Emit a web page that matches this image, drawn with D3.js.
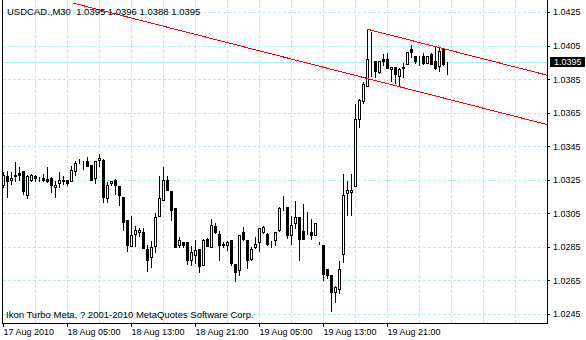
<!DOCTYPE html>
<html>
<head>
<meta charset="utf-8">
<script src="https://cdn.jsdelivr.net/npm/d3@7"></script>
<style>
body { margin: 0; background: #fff; }
svg { display: block; font-family: "Liberation Sans", Arial, sans-serif; font-size: 9px; }
</style>
</head>
<body>
<div id="chart"></div>
<script>
// USDCAD M30 bars (oldest first)
var opens = [1.03220,1.03274,1.03246,1.03280,1.03290,1.03300,1.03157,1.03248,1.03274,1.03250,
  1.03262,1.03252,1.03262,1.03204,1.03230,1.03244,1.03250,1.03240,1.03300,1.03366,
  1.03354,1.03364,1.03340,1.03260,1.03368,1.03370,1.03141,1.03230,1.03250,1.03210,
  1.03147,1.03012,1.02858,1.02926,1.02938,1.02938,1.02838,1.02789,1.02858,1.03037,
  1.03127,1.03246,1.03181,1.03081,1.02862,1.02882,1.02878,1.02769,1.02803,1.02838,
  1.02743,1.02898,1.02848,1.02972,1.02928,1.02866,1.02859,1.02893,1.02747,1.02714,
  1.02936,1.02893,1.02779,1.02849,1.02879,1.02938,1.02928,1.02879,1.02893,1.02952,
  1.03086,1.03088,1.02919,1.02992,1.03026,1.02942,1.02952,1.02938,1.02919,1.02867,
  1.02863,1.02720,1.02684,1.02583,1.02597,1.02806,1.03170,1.03176,1.03215,1.03613,
  1.03720,1.03806,1.03951,1.03959,1.03892,1.03969,1.03969,1.03909,1.03921,1.03870,
  1.03921,1.03939,1.04029,1.03989,1.03971,1.03985,1.03945,1.03999,1.03959,1.03929,
  1.04029,1.03950];
var highs = [1.03303,1.03310,1.03304,1.03363,1.03334,1.03304,1.03286,1.03290,1.03284,1.03274,
  1.03290,1.03334,1.03274,1.03250,1.03304,1.03280,1.03250,1.03340,1.03370,1.03380,
  1.03370,1.03393,1.03340,1.03364,1.03409,1.03380,1.03240,1.03250,1.03260,1.03210,
  1.03147,1.03012,1.03041,1.02982,1.02968,1.02968,1.02868,1.02892,1.03057,1.03280,
  1.03330,1.03280,1.03181,1.03087,1.02912,1.02882,1.02878,1.02862,1.02898,1.02838,
  1.02902,1.02906,1.03021,1.02998,1.02952,1.02883,1.02893,1.02893,1.02747,1.02922,
  1.02972,1.02893,1.02853,1.02913,1.02968,1.02982,1.02936,1.02893,1.02942,1.03092,
  1.03161,1.03088,1.03038,1.03131,1.03026,1.03112,1.03062,1.03022,1.02998,1.02883,
  1.02863,1.02720,1.02684,1.02620,1.02772,1.03290,1.03250,1.03290,1.03707,1.03736,
  1.03836,1.04148,1.04134,1.03959,1.03959,1.04005,1.04011,1.03925,1.03921,1.03925,
  1.03951,1.04015,1.04059,1.03995,1.03995,1.04011,1.03985,1.04011,1.04045,1.04045,
  1.04035,1.03960];
var lows = [1.03204,1.03145,1.03226,1.03240,1.03246,1.03166,1.03141,1.03244,1.03244,1.03240,
  1.03240,1.03236,1.03176,1.03145,1.03204,1.03226,1.03216,1.03240,1.03276,1.03350,
  1.03314,1.03330,1.03246,1.03230,1.03334,1.03117,1.03117,1.03220,1.03167,1.03097,
  1.02948,1.02828,1.02858,1.02858,1.02912,1.02846,1.02709,1.02733,1.02818,1.03037,
  1.03127,1.03187,1.03008,1.02852,1.02848,1.02848,1.02749,1.02743,1.02753,1.02699,
  1.02743,1.02858,1.02848,1.02932,1.02773,1.02850,1.02833,1.02743,1.02644,1.02684,
  1.02893,1.02727,1.02773,1.02843,1.02823,1.02932,1.02863,1.02849,1.02863,1.02942,
  1.03072,1.02903,1.02867,1.02962,1.02773,1.02899,1.02926,1.02899,1.02919,1.02867,
  1.02654,1.02664,1.02465,1.02523,1.02573,1.02762,1.03041,1.03041,1.03215,1.03567,
  1.03710,1.03806,1.03866,1.03862,1.03886,1.03935,1.03915,1.03836,1.03826,1.03816,
  1.03862,1.03939,1.03981,1.03949,1.03935,1.03941,1.03945,1.03941,1.03909,1.03896,
  1.03935,1.03880];
var closes = [1.03280,1.03240,1.03260,1.03270,1.03276,1.03186,1.03270,1.03278,1.03260,1.03250,
  1.03248,1.03240,1.03216,1.03220,1.03248,1.03246,1.03230,1.03308,1.03350,1.03366,
  1.03356,1.03330,1.03246,1.03364,1.03380,1.03145,1.03220,1.03244,1.03216,1.03157,
  1.02998,1.02862,1.02922,1.02952,1.02952,1.02846,1.02773,1.02848,1.03027,1.03141,
  1.03250,1.03187,1.03067,1.02852,1.02892,1.02862,1.02773,1.02822,1.02832,1.02739,
  1.02892,1.02858,1.02982,1.02938,1.02862,1.02862,1.02879,1.02753,1.02700,1.02922,
  1.02897,1.02773,1.02837,1.02867,1.02962,1.02968,1.02867,1.02877,1.02938,1.03082,
  1.03088,1.02919,1.02978,1.03028,1.02899,1.02899,1.02950,1.02922,1.02992,1.02867,
  1.02690,1.02684,1.02580,1.02613,1.02719,1.03160,1.03190,1.03190,1.03611,1.03726,
  1.03822,1.03969,1.03950,1.03896,1.03959,1.03955,1.03919,1.03925,1.03880,1.03909,
  1.03919,1.04011,1.04011,1.03955,1.03971,1.03945,1.03985,1.03941,1.03919,1.04019,
  1.03939,1.03950];

var timeTicks = [0, 16, 32, 48, 64, 80, 96];
var timeLabels = ["17 Aug 2010", "18 Aug 05:00", "18 Aug 13:00", "18 Aug 21:00",
  "19 Aug 05:00", "19 Aug 13:00", "19 Aug 21:00"];
var priceTicks = [1.0425, 1.0405, 1.0385, 1.0365, 1.0345, 1.0325, 1.0305, 1.0285, 1.0265, 1.0245];

// channel lines: [bar index, price] anchor pairs
var upperChannel = [[91, 1.04148], [111, 1.04026]];
var lowerChannel = [[17.4, 1.04304], [111, 1.03732]];

var symbol = "USDCAD.,M30";
var copyright = "Ikon Turbo Meta, ? 2001-2010 MetaQuotes Software Corp.";

var width = 586, height = 340;
var plot = {left: 2, right: 547, top: 0, bottom: 323};
var gridColor = "#AFEEEE";

function init() {
    var svg = d3.select("#chart")
        .append("svg")
        .attr("width", width)
        .attr("height", height);

    // 4 px per bar
    var x = d3.scaleLinear().domain([0, 136]).range([3, 547]);
    var y = d3.scaleLinear().domain([1.0245, 1.0425]).range([314, 12]);
    var px = function (i) { return Math.round(x(i)) + 0.5; };
    var py = function (v) { return Math.round(y(v)) + 0.5; };

    svg.append("defs").append("clipPath").attr("id", "plotclip")
        .append("rect")
        .attr("x", plot.left + 1).attr("y", plot.top)
        .attr("width", plot.right - plot.left - 1).attr("height", plot.bottom - plot.top);

    // grid
    var grid = svg.append("g").attr("shape-rendering", "crispEdges")
        .attr("stroke", gridColor).attr("stroke-dasharray", "3,2");
    grid.selectAll("line.h").data(priceTicks).enter().append("line")
        .attr("class", "h")
        .attr("x1", plot.left + 1).attr("x2", plot.right)
        .attr("y1", py).attr("y2", py);
    grid.selectAll("line.v").data(d3.range(8, 136, 8)).enter().append("line")
        .attr("class", "v")
        .attr("x1", px).attr("x2", px)
        .attr("y1", plot.top).attr("y2", plot.bottom);

    // bid line
    var last = closes.length - 1;
    svg.append("line")
        .attr("x1", plot.left + 1).attr("x2", plot.right)
        .attr("y1", py(closes[last])).attr("y2", py(closes[last]))
        .attr("stroke", gridColor).attr("shape-rendering", "crispEdges");

    // candles
    var bars = d3.range(opens.length).map(function (i) {
        return {i: i, o: opens[i], h: highs[i], l: lows[i], c: closes[i]};
    });
    var candle = svg.append("g").attr("shape-rendering", "crispEdges")
        .selectAll("g").data(bars).enter().append("g");

    candle.append("line")
        .attr("x1", function (d) { return px(d.i); })
        .attr("x2", function (d) { return px(d.i); })
        .attr("y1", function (d) { return py(d.h); })
        .attr("y2", function (d) { return py(d.l); })
        .attr("stroke", "#000");

    candle.append("rect")
        .attr("x", function (d) { return px(d.i) - 1; })
        .attr("width", 2)
        .attr("y", function (d) { return py(Math.max(d.o, d.c)); })
        .attr("height", function (d) { return py(Math.min(d.o, d.c)) - py(Math.max(d.o, d.c)); })
        .attr("fill", function (d) { return d.c >= d.o ? "#fff" : "#000"; })
        .attr("stroke", "#000");

    // channel
    var line = d3.line()
        .x(function (d) { return x(d[0]); })
        .y(function (d) { return y(d[1]); });
    function ray(p) {
        var slope = (p[1][1] - p[0][1]) / (p[1][0] - p[0][0]);
        var end = x.domain()[1];
        return [p[0], [end, p[0][1] + slope * (end - p[0][0])]];
    }
    svg.append("g").attr("clip-path", "url(#plotclip)")
        .selectAll("path").data([upperChannel, lowerChannel]).enter().append("path")
        .attr("d", function (d) { return line(ray(d)); })
        .attr("fill", "none")
        .attr("stroke", "#ff0000")
        .attr("stroke-width", 1)
        .attr("shape-rendering", "crispEdges");

    // frame
    var frame = svg.append("g").attr("stroke", "#000").attr("shape-rendering", "crispEdges");
    frame.append("line").attr("x1", plot.left + 0.5).attr("x2", plot.left + 0.5)
        .attr("y1", plot.top).attr("y2", plot.bottom + 0.5);
    frame.append("line").attr("x1", plot.right + 0.5).attr("x2", plot.right + 0.5)
        .attr("y1", plot.top).attr("y2", plot.bottom + 0.5);
    frame.append("line").attr("x1", plot.left).attr("x2", plot.right + 1)
        .attr("y1", plot.bottom + 0.5).attr("y2", plot.bottom + 0.5);

    // price axis
    var yAxis = svg.append("g")
        .attr("transform", "translate(" + plot.right + ",0)")
        .call(d3.axisRight(y).tickValues(priceTicks).tickSize(3).tickPadding(3)
            .tickFormat(d3.format(".4f")));
    yAxis.select(".domain").remove();
    yAxis.selectAll("line").attr("shape-rendering", "crispEdges");
    yAxis.selectAll("text").style("font-size", "9px").attr("fill", "#000");

    // time axis
    var xAxis = svg.append("g")
        .attr("transform", "translate(0," + plot.bottom + ")")
        .call(d3.axisBottom(x).tickValues(timeTicks).tickSize(4).tickPadding(2)
            .tickFormat(function (d, i) { return timeLabels[i]; }));
    xAxis.select(".domain").remove();
    xAxis.selectAll("line").attr("shape-rendering", "crispEdges");
    xAxis.selectAll("text").style("font-size", "9px").attr("fill", "#000")
        .attr("text-anchor", "start");

    // current price tag
    svg.append("rect")
        .attr("x", plot.right + 3).attr("y", Math.round(y(closes[last])) - 5)
        .attr("width", 35).attr("height", 10).attr("fill", "#000");
    svg.append("text")
        .attr("x", plot.right + 7).attr("y", y(closes[last]))
        .attr("dy", "0.34em").attr("fill", "#fff")
        .text(d3.format(".4f")(closes[last]));

    // header & footer
    var f = d3.format(".4f");
    svg.append("text")
        .attr("x", 7).attr("y", 14.5)
        .style("white-space", "pre").style("font-size", "9.5px")
        .text(symbol + "  " + f(opens[last]) + " " + f(highs[last]) + " " + f(lows[last]) + " " + f(closes[last]));
    svg.append("text")
        .attr("x", 6).attr("y", 317.5)
        .style("font-size", "9.5px")
        .text(copyright);
}

init();
</script>
</body>
</html>
